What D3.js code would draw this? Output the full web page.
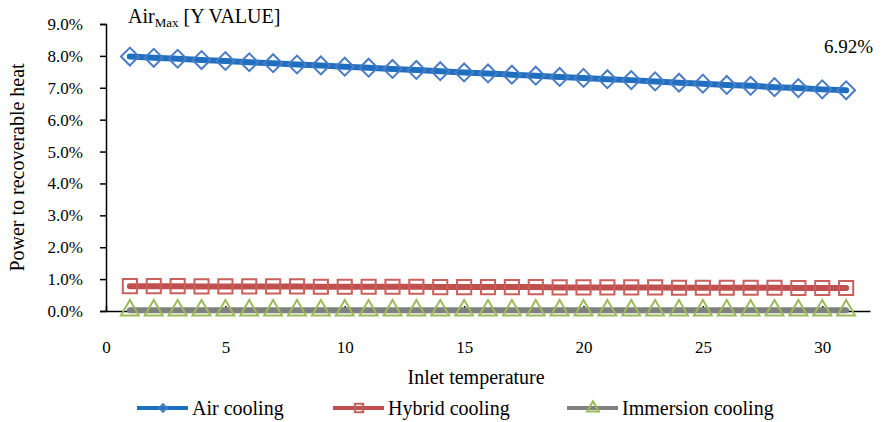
<!DOCTYPE html>
<html>
<head>
<meta charset="utf-8">
<script src="https://cdn.jsdelivr.net/npm/d3@7"></script>
<style>
  body { margin: 0; background: #fff; }
  svg text { font-family: "Palatino Linotype", "Book Antiqua", "Liberation Serif", "DejaVu Serif", serif; fill: #000; }
</style>
</head>
<body>
<div id="chart"></div>
<script>
// inlet temperature
var temps = d3.range(1, 32)
// power to recoverable heat, %
var airCooling = [7.98, 7.94, 7.91, 7.87, 7.84, 7.80, 7.77, 7.73, 7.70, 7.66, 7.63, 7.59, 7.56, 7.52, 7.48, 7.45,
    7.41, 7.38, 7.34, 7.31, 7.27, 7.24, 7.20, 7.16, 7.13, 7.09, 7.06, 7.02, 6.99, 6.95, 6.92]
var hybridCooling = [0.78, 0.78, 0.78, 0.77, 0.77, 0.77, 0.77, 0.77, 0.76, 0.76, 0.76, 0.76, 0.76, 0.75, 0.75, 0.75,
    0.75, 0.75, 0.74, 0.74, 0.74, 0.74, 0.74, 0.73, 0.73, 0.73, 0.73, 0.73, 0.72, 0.72, 0.72]
var immersionCooling = [0.02, 0.02, 0.02, 0.02, 0.02, 0.02, 0.02, 0.02, 0.02, 0.02, 0.02, 0.02, 0.02, 0.02, 0.02, 0.02,
    0.02, 0.02, 0.02, 0.02, 0.02, 0.02, 0.02, 0.02, 0.02, 0.02, 0.02, 0.02, 0.02, 0.02, 0.02]
var xTicks = [0, 5, 10, 15, 20, 25, 30]
var yTicks = [0, 1, 2, 3, 4, 5, 6, 7, 8, 9]

var series = [
    { name: 'Air cooling', values: airCooling, line: '#1f6fc0', marker: '#4a7cc4', shape: 'diamond' },
    { name: 'Hybrid cooling', values: hybridCooling, line: '#c0504d', marker: '#c9605c', shape: 'square' },
    { name: 'Immersion cooling', values: immersionCooling, line: '#808080', marker: '#9bbb59', shape: 'triangle' }
]

var width = 884, height = 422
var margin = { top: 24, right: 14, bottom: 111, left: 106 }
var w = width - margin.left - margin.right,
    h = height - margin.top - margin.bottom

var svg = d3.select('#chart').append('svg')
    .attr('width', width)
    .attr('height', height)

var g = svg.append('g')
    .attr('transform', 'translate(' + margin.left + ',' + margin.top + ')')

var x = d3.scaleLinear().domain([0, 32]).range([0, w])
var y = d3.scaleLinear().domain([0, 9]).range([h, 0])

// y axis
var yAxis = g.append('g')
    .call(d3.axisLeft(y).tickValues(yTicks).tickSize(6).tickPadding(17)
        .tickFormat(function (d) { return d.toFixed(1) + '%' }))
yAxis.select('.domain').attr('stroke', '#000').attr('stroke-width', 1.5)
yAxis.selectAll('line').attr('stroke', '#000').attr('stroke-width', 1.5)
yAxis.selectAll('text').attr('font-size', '17px')

// x axis
var xAxis = g.append('g')
    .attr('transform', 'translate(0,' + h + ')')
    .call(d3.axisBottom(x).tickValues(xTicks).tickSizeInner(-5).tickSizeOuter(0).tickPadding(30))
xAxis.select('.domain').attr('stroke', '#000').attr('stroke-width', 1.5)
xAxis.selectAll('line').attr('stroke', '#000').attr('stroke-width', 1.5)
xAxis.selectAll('text').attr('font-size', '17px')

var symbols = {
    diamond: d3.symbol().type(d3.symbolSquare).size(160),
    square: d3.symbol().type(d3.symbolSquare).size(200),
    triangle: d3.symbol().type(d3.symbolTriangle).size(140)
}

var line = d3.line()
    .x(function (d, i) { return x(temps[i]) })
    .y(function (d) { return y(d) })

series.forEach(function (s) {
    g.append('path')
        .datum(s.values)
        .attr('fill', 'none')
        .attr('stroke', s.line)
        .attr('stroke-width', 6)
        .attr('stroke-linecap', 'round')
        .attr('d', line)

    g.selectAll('.m-' + s.shape)
        .data(s.values)
        .enter()
        .append('path')
        .attr('class', 'm-' + s.shape)
        .attr('d', symbols[s.shape])
        .attr('transform', function (d, i) {
            return 'translate(' + x(temps[i]) + ',' + y(d) + ')' + (s.shape === 'diamond' ? ' rotate(45)' : '')
        })
        .attr('fill', 'none')
        .attr('stroke', s.marker)
        .attr('stroke-width', 2)
})

// end label
g.append('text')
    .attr('x', x(temps[temps.length - 1]) + 27)
    .attr('y', y(airCooling[airCooling.length - 1]) - 37)
    .attr('text-anchor', 'end')
    .attr('font-size', '19px')
    .text(airCooling[airCooling.length - 1].toFixed(2) + '%')

// title
var title = svg.append('text').attr('x', 128).attr('y', 23).attr('font-size', '20px')
title.append('tspan').text('Air')
title.append('tspan').attr('font-size', '13px').attr('dy', 4).text('Max')
title.append('tspan').attr('dy', -4).text(' [Y VALUE]')

// axis titles
svg.append('text')
    .attr('x', margin.left + x(15.5))
    .attr('y', 384)
    .attr('text-anchor', 'middle')
    .attr('font-size', '20px')
    .text('Inlet temperature')

svg.append('text')
    .attr('transform', 'translate(24,' + (margin.top + h / 2) + ') rotate(-90)')
    .attr('text-anchor', 'middle')
    .attr('font-size', '20px')
    .text('Power to recoverable heat')

// legend
var legendX = [137, 333, 567]
var legend = svg.selectAll('.legend')
    .data(series)
    .enter()
    .append('g')
    .attr('class', 'legend')
    .attr('transform', function (d, i) { return 'translate(' + legendX[i] + ',408)' })

legend.append('line')
    .attr('x1', 0).attr('x2', 51)
    .attr('stroke', function (d) { return d.line })
    .attr('stroke-width', 4)

legend.append('path')
    .attr('d', function (d) {
        return d3.symbol().type(d.shape === 'triangle' ? d3.symbolTriangle : d3.symbolSquare)
            .size(d.shape === 'diamond' ? 30 : d.shape === 'square' ? 70 : 60)()
    })
    .attr('transform', function (d) { return 'translate(26,0)' + (d.shape === 'diamond' ? ' rotate(45)' : '') })
    .attr('fill', 'none')
    .attr('stroke', function (d) { return d.marker })
    .attr('stroke-width', 2)

legend.append('text')
    .attr('x', 55)
    .attr('y', 7)
    .attr('font-size', '20px')
    .text(function (d) { return d.name })
</script>
</body>
</html>
